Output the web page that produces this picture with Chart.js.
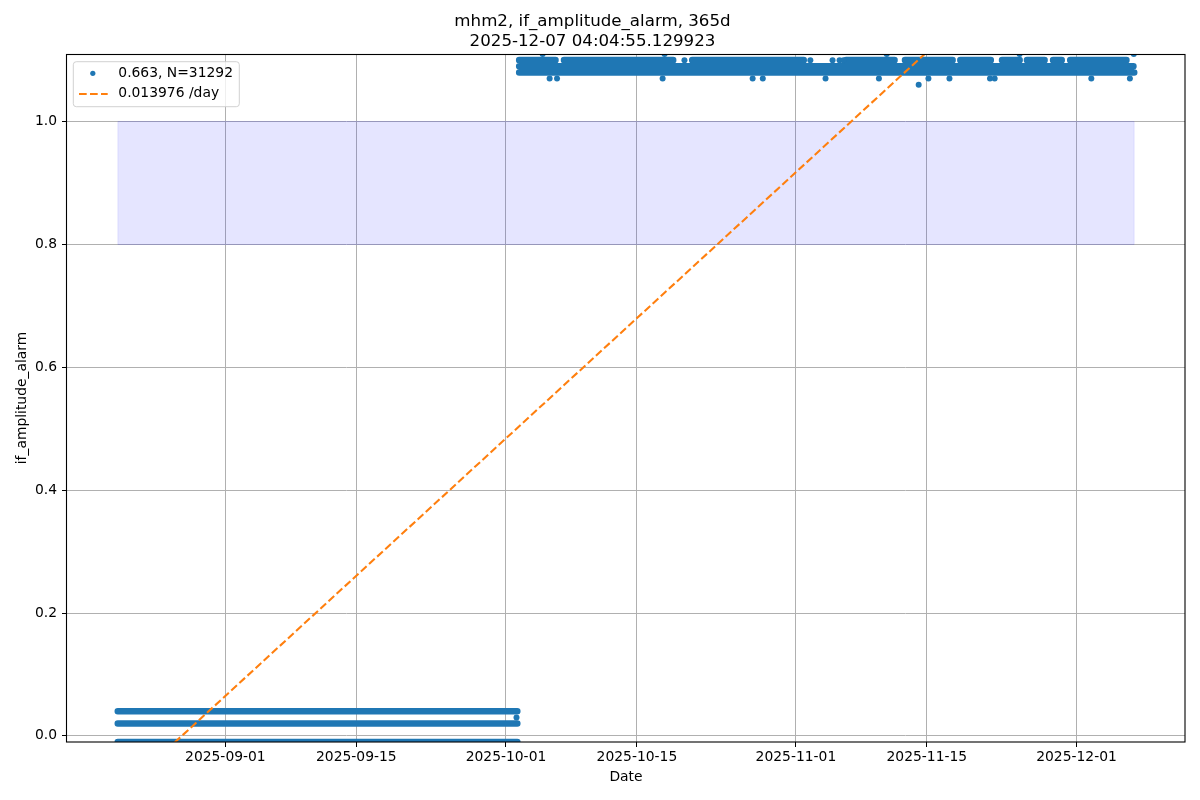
<!DOCTYPE html>
<html><head><meta charset="utf-8">
<script src="https://cdn.jsdelivr.net/npm/chart.js@4.4.0/dist/chart.umd.min.js"></script>
<style>html,body{margin:0;padding:0;background:#fff;}#wrap{width:1200px;height:800px;}</style>
</head><body><div id="wrap"><canvas id="c" width="1200" height="800"></canvas></div>
<script>
const titleLines = ['mhm2, if_amplitude_alarm, 365d', '2025-12-07 04:04:55.129923'];
const xAxisLabel = 'Date';
const yAxisLabel = 'if_amplitude_alarm';

// continuous runs of samples (densely sampled readings): start, end, value
const runStart = ['2025-08-20T12:00','2025-08-20T12:00','2025-08-20T12:00',
  '2025-10-02T10:00','2025-10-02T10:00',
  '2025-10-02T10:00','2025-10-07T05:00','2025-10-20T22:00','2025-11-06T09:00','2025-11-12T16:00',
  '2025-11-18T14:00','2025-11-23T01:00','2025-11-25T17:00','2025-11-28T12:00','2025-11-30T08:00'];
const runEnd = ['2025-10-02T05:00','2025-10-02T05:00','2025-10-02T05:00',
  '2025-12-07T04:00','2025-12-07T02:00',
  '2025-10-06T07:00','2025-10-18T21:00','2025-11-01T20:00','2025-11-11T13:00','2025-11-17T18:00',
  '2025-11-21T20:00','2025-11-24T22:00','2025-11-27T14:00','2025-11-29T10:00','2025-12-06T08:00'];
const runValue = [0.04, 0.02, -0.01,
  1.08, 1.09,
  1.10, 1.10, 1.10, 1.10, 1.10,
  1.10, 1.10, 1.10, 1.10, 1.10];

// isolated samples
const dotTime = ['2025-10-02T03:00',
  '2025-10-20T02:00','2025-11-02T13:00','2025-11-04T22:00','2025-11-05T16:00','2025-11-06T02:00',
  '2025-10-05T16:00','2025-10-06T11:00','2025-10-17T18:00','2025-10-27T09:00','2025-10-28T11:00',
  '2025-11-04T04:00','2025-11-09T21:00','2025-11-15T04:00','2025-11-17T10:00','2025-11-21T18:00',
  '2025-11-22T06:00','2025-12-02T14:00','2025-12-06T17:00',
  '2025-11-14T03:00',
  '2025-10-04T22:00','2025-10-17T23:00','2025-11-10T17:00','2025-11-24T22:00','2025-12-07T03:00'];
const dotValue = [0.03,
  1.10, 1.10, 1.10, 1.10, 1.10,
  1.07, 1.07, 1.07, 1.07, 1.07,
  1.07, 1.07, 1.07, 1.07, 1.07,
  1.07, 1.07, 1.07,
  1.06,
  1.11, 1.11, 1.11, 1.11, 1.11];

const meanLabel = '0.663, N=31292';
const trendLabel = '0.013976 /day';
const trendTime = ['2025-08-20T12:00', '2025-12-07T04:00'];
const trendValue = [-0.0957, 1.4230];

const bandTime = ['2025-08-20T12:00', '2025-12-07T04:00'];
const bandLow = 0.8, bandHigh = 1.0;

const yTicks = [0.0, 0.2, 0.4, 0.6, 0.8, 1.0];
const yMin = -0.01, yMax = 1.11;
const xTicks = ['2025-09-01','2025-09-15','2025-10-01','2025-10-15','2025-11-01','2025-11-15','2025-12-01'];

// ---------------------------------------------------------------
const T = s => Date.parse(s.length === 10 ? s + 'T00:00:00Z' : s + ':00Z');
const BLUE = '#1f77b4', ORANGE = '#ff7f0e';
const FONT = 'DejaVu Sans';
const PX10 = 13.89;

const runPts = [];
for (let i = 0; i < runStart.length; i++) {
  runPts.push({x: T(runStart[i]), y: runValue[i]}, {x: T(runEnd[i]), y: runValue[i]}, {x: T(runEnd[i]), y: null});
}
const dotPts = dotTime.map((t, i) => ({x: T(t), y: dotValue[i]}));
const trendPts = trendTime.map((t, i) => ({x: T(t), y: trendValue[i]}));

const allT = runStart.concat(runEnd, dotTime).map(T);
const tMin = Math.min(...allT), tMax = Math.max(...allT);
const xPad = 0.05 * (tMax - tMin);

const bandFill = 'rgba(0,0,255,0.1)';

const frameAndLegend = {
  id: 'frameAndLegend',
  afterDatasetsDraw(chart) {
    const ctx = chart.ctx, a = chart.chartArea;
    ctx.save();
    ctx.strokeStyle = '#000'; ctx.lineWidth = 1.1;
    ctx.strokeRect(Math.round(a.left) - 0.5, Math.round(a.top) + 0.5, Math.round(a.right - a.left) + 0.5, Math.round(a.bottom - a.top) - 0.5);
    ctx.restore();
  },
  afterDraw(chart) {
    const ctx = chart.ctx, a = chart.chartArea;
    const x0 = a.left + 6.3, y0 = a.top + 7.7, w = 166, h = 45;
    ctx.save();
    ctx.beginPath();
    ctx.roundRect(x0, y0, w, h, 3);
    ctx.fillStyle = 'rgba(255,255,255,0.8)'; ctx.fill();
    ctx.strokeStyle = 'rgba(204,204,204,0.9)'; ctx.lineWidth = 1; ctx.stroke();
    ctx.beginPath(); ctx.arc(x0 + 19.5, y0 + 11.6, 2.6, 0, Math.PI * 2);
    ctx.fillStyle = BLUE; ctx.fill();
    ctx.beginPath(); ctx.setLineDash([7.7, 3.3]);
    ctx.moveTo(x0 + 5.7, y0 + 32.3); ctx.lineTo(x0 + 34.4, y0 + 32.3);
    ctx.strokeStyle = ORANGE; ctx.lineWidth = 2.08; ctx.stroke();
    ctx.setLineDash([]);
    ctx.fillStyle = '#000';
    ctx.font = PX10 + 'px "' + FONT + '"';
    ctx.textBaseline = 'middle'; ctx.textAlign = 'left';
    ctx.fillText(meanLabel, x0 + 45, y0 + 11.2);
    ctx.fillText(trendLabel, x0 + 45, y0 + 32);
    ctx.restore();
  }
};

Chart.defaults.font.family = FONT;
Chart.defaults.color = '#000';

new Chart(document.getElementById('c'), {
  type: 'scatter',
  data: {
    datasets: [
      { label: trendLabel, data: trendPts, showLine: true, borderColor: ORANGE, borderWidth: 2.08,
        borderDash: [7.7, 3.3], pointRadius: 0, fill: false, order: 0 },
      { label: meanLabel, data: dotPts, showLine: false, pointRadius: 3.0, pointBackgroundColor: BLUE,
        pointBorderWidth: 0, order: 1 },
      { label: 'runs', data: runPts, showLine: true, spanGaps: false, borderColor: BLUE, borderWidth: 6.6,
        borderCapStyle: 'round', borderJoinStyle: 'round', pointRadius: 0, fill: false, order: 2 },
      { label: 'band low', data: bandTime.map(t => ({x: T(t), y: bandLow})), showLine: true,
        borderColor: bandFill, borderWidth: 1, pointRadius: 0, fill: false, order: 5 },
      { label: 'band high', data: bandTime.map(t => ({x: T(t), y: bandHigh})), showLine: true,
        borderColor: bandFill, borderWidth: 1, pointRadius: 0, fill: '-1', backgroundColor: bandFill, order: 4 },
      { label: 'band sides', data: [{x: T(bandTime[0]), y: bandLow}, {x: T(bandTime[0]), y: bandHigh}, {x: T(bandTime[0]), y: null},
        {x: T(bandTime[1]), y: bandLow}, {x: T(bandTime[1]), y: bandHigh}], showLine: true, spanGaps: false,
        borderColor: bandFill, borderWidth: 1, pointRadius: 0, fill: false, order: 3 }
    ]
  },
  options: {
    responsive: false,
    animation: false,
    events: [],
    devicePixelRatio: 1,
    layout: { padding: { left: 0, right: 15, top: 0, bottom: 0 } },
    plugins: {
      legend: { display: false },
      tooltip: { enabled: false },
      title: { display: true, text: titleLines, color: '#000',
        font: { family: FONT, size: 16.67, weight: 'normal', lineHeight: 1.2 },
        padding: { top: 12, bottom: 2 } }
    },
    scales: {
      x: {
        type: 'linear', min: tMin - xPad, max: tMax + xPad,
        afterBuildTicks: s => { s.ticks = xTicks.map(d => ({value: T(d)})); },
        afterFit: s => { s.height = 58; },
        ticks: { autoSkip: false, maxRotation: 0, minRotation: 0, padding: 2, color: '#000',
          font: { size: PX10 },
          callback: v => new Date(v).toISOString().slice(0, 10) },
        grid: { color: '#b0b0b0', lineWidth: 1, tickColor: '#000', tickLength: 5, tickWidth: 1 },
        border: { display: false },
        title: { display: true, text: xAxisLabel, color: '#000', font: { size: PX10 }, padding: { top: 0, bottom: 14 } }
      },
      y: {
        type: 'linear', min: yMin, max: yMax,
        afterBuildTicks: s => { s.ticks = yTicks.map(v => ({value: v})); },
        afterFit: s => { s.width = 67; },
        ticks: { padding: 5, color: '#000', font: { size: PX10 }, callback: v => Number(v).toFixed(1) },
        grid: { color: '#b0b0b0', lineWidth: 1, tickColor: '#000', tickLength: 5, tickWidth: 1 },
        border: { display: false },
        title: { display: true, text: yAxisLabel, color: '#000', font: { size: PX10 }, padding: { top: 13.6, bottom: 0 } }
      }
    }
  },
  plugins: [frameAndLegend]
});
</script></body></html>
